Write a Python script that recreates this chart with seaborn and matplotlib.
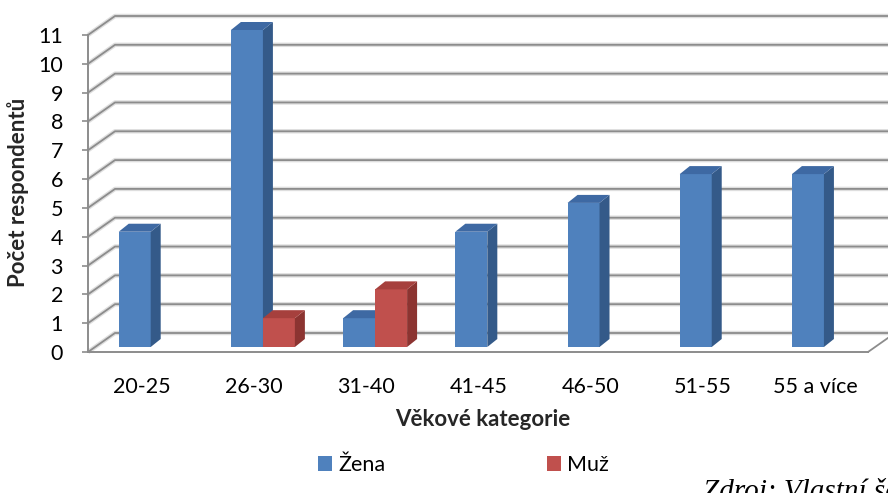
import matplotlib
matplotlib.use("Agg")
import matplotlib.pyplot as plt
import matplotlib.transforms as mtransforms
from matplotlib.patches import Polygon, Patch
from matplotlib.lines import Line2D
import pandas as pd
import seaborn as sns

# Survey respondents by age group and sex
kategorie = ["20-25", "26-30", "31-40", "41-45", "46-50", "51-55", "55 a více"]
zena = [4, 11, 1, 4, 5, 6, 6]
muz = [0, 1, 2, 0, 0, 0, 0]
pohlavi = ["Žena", "Muž"]
y_ticks = list(range(0, 12))

front_col = {"Žena": "#4F81BD", "Muž": "#C0504D"}
side_col = {"Žena": "#345A89", "Muž": "#8C3431"}
top_col = {"Žena": "#3E69A3", "Muž": "#A6403D"}
grid_col = "#8c8c8c"

df = pd.DataFrame({
    "Věková kategorie": kategorie * 2,
    "Pohlaví": ["Žena"] * len(kategorie) + ["Muž"] * len(kategorie),
    "Počet": zena + muz,
})

sns.set_theme(style="white")
plt.rcParams["font.family"] = ["Lato", "DejaVu Sans"]
plt.rcParams["text.color"] = "black"

W, H = 888, 493
fig = plt.figure(figsize=(W / 100, H / 100), dpi=100)
# front plane of the 3-D box, in pixels: x 88..868, y 35..352
ax = fig.add_axes([88 / W, 1 - 352 / H, 780 / W, 317 / H])

sns.barplot(data=df, x="Věková kategorie", y="Počet", hue="Pohlaví",
            hue_order=pohlavi, palette=front_col, width=0.57, saturation=1,
            errorbar=None, legend=False, linewidth=0, ax=ax)

xlim = (-0.4786, 6.473)
ax.set_xlim(*xlim)
ax.set_ylim(0, 11)
ax.set_yticks(y_ticks)

# depth of the box (back wall offset) and of each bar, in pixels
back_dx, back_dy = 27, 19
bar_dx, bar_dy = 10, 8
ident = mtransforms.IdentityTransform()

# bars sit a little behind the front plane
bar_shift = mtransforms.offset_copy(ax.transData, fig=fig, x=9, y=5, units="dots")

for z, (cont, name) in enumerate(zip(ax.containers, pohlavi)):
    for bar in cont:
        bar.set_transform(bar_shift)
        bar.set_zorder(2 + z)
        bar.set_clip_on(False)
        h = bar.get_height()
        if h <= 0:
            bar.set_visible(False)
            continue
        x0 = bar.get_x()
        x1 = x0 + bar.get_width()
        px0, py0 = bar_shift.transform((x0, 0))
        px1, py1 = bar_shift.transform((x1, h))
        side = [(px1, py0), (px1 + bar_dx, py0 + bar_dy),
                (px1 + bar_dx, py1 + bar_dy), (px1, py1)]
        top = [(px0, py1), (px1, py1),
               (px1 + bar_dx, py1 + bar_dy), (px0 + bar_dx, py1 + bar_dy)]
        ax.add_patch(Polygon(side, closed=True, transform=ident, clip_on=False,
                             facecolor=side_col[name], linewidth=0, zorder=2 + z))
        ax.add_patch(Polygon(top, closed=True, transform=ident, clip_on=False,
                             facecolor=top_col[name], linewidth=0, zorder=2 + z))

# back wall gridlines with their slanted side-wall stubs
for v in y_ticks:
    fx, fy = ax.transData.transform((xlim[0], v))
    ax.add_line(Line2D([fx, fx + back_dx, W + 5], [fy, fy + back_dy, fy + back_dy],
                       transform=ident, clip_on=False, color="#dedede", lw=3.2,
                       zorder=0.4, solid_capstyle="butt"))
    ax.add_line(Line2D([fx, fx + back_dx, W + 5], [fy, fy + back_dy, fy + back_dy],
                       transform=ident, clip_on=False, color=grid_col, lw=1.3,
                       zorder=0.5))

# right edge of the floor
rx, ry = ax.transData.transform((xlim[1], 0))
ax.add_line(Line2D([rx, rx + back_dx], [ry, ry + back_dy], transform=ident,
                   clip_on=False, color=grid_col, lw=1.3, zorder=0.5))

for s in ["top", "right"]:
    ax.spines[s].set_visible(False)
for s in ["left", "bottom"]:
    ax.spines[s].set_color(grid_col)
    ax.spines[s].set_linewidth(1.4)
ax.set_facecolor("none")

ax.tick_params(axis="y", left=True, length=4, width=1.2, color=grid_col,
               pad=14, labelsize=15.5, labelcolor="black")
ax.tick_params(axis="x", bottom=False, length=0, pad=18, labelsize=15.5,
               labelcolor="black")

ax.set_xlabel("Věkové kategorie", fontweight="bold", fontsize=16)
ax.xaxis.set_label_coords(483 / W, 1 - 420 / H, transform=fig.transFigure)
ax.xaxis.label.set_va("center")
ax.set_ylabel("Počet respondentů", fontweight="bold", fontsize=16)
ax.yaxis.set_label_coords(18 / W, 1 - 192 / H, transform=fig.transFigure)
ax.yaxis.label.set_va("center")

handles = [Patch(facecolor=front_col[p], edgecolor="none") for p in pohlavi]
fig.legend(handles, pohlavi, loc="center left",
           bbox_to_anchor=(318 / W, 1 - 465 / H), ncol=2, frameon=False,
           fontsize=15.5, handlelength=0.65, handleheight=0.65, handletextpad=0.3,
           columnspacing=7.5, borderpad=0, borderaxespad=0)

fig.text(703 / W, 1 - 478 / H, "Zdroj: Vlastní šetření", fontsize=21,
         fontstyle="italic", family=["Liberation Serif", "DejaVu Serif"],
         va="top", ha="left")

fig.savefig("out.png", dpi=100)
